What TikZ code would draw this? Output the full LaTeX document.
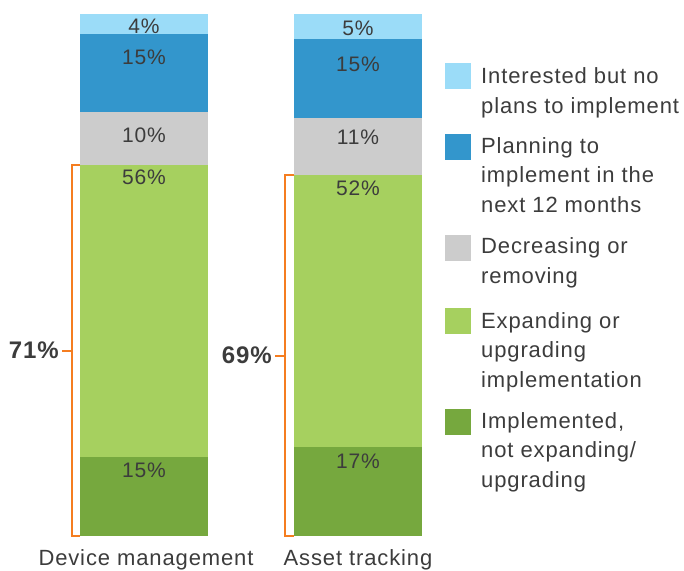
\documentclass[tikz,border=0pt]{standalone}
\usepackage{fontspec}
\setmainfont{Liberation Sans}[LetterSpace=4]
\usepackage{tikz}
\usetikzlibrary{calc}
\definecolor{cInterest}{RGB}{155,220,248}
\definecolor{cPlan}{RGB}{51,150,204}
\definecolor{cDecr}{RGB}{204,204,204}
\definecolor{cExpand}{RGB}{166,208,95}
\definecolor{cImpl}{RGB}{118,168,62}
\definecolor{cBracket}{RGB}{245,125,32}
\definecolor{cText}{RGB}{60,60,60}
\tikzset{barFig/.style={x=1pt,y=-1pt,text=cText},
         seg/.style={rectangle,inner sep=0pt,minimum width=128pt,draw=none},
         pct/.style={anchor=base,inner sep=0pt,font=\fontsize{21}{25}\selectfont},
         tot/.style={anchor=east,inner sep=3pt,font=\fontsize{24}{28}\selectfont\bfseries},
         bracket/.style={draw=cBracket,line width=2pt},
         keybox/.style={rectangle,inner sep=0pt,minimum size=26pt,anchor=north west},
         keytext/.style={anchor=base west,inner sep=0pt,align=left,font=\fontsize{22}{29.5}\selectfont},
         catlabel/.style={anchor=base,inner sep=0pt,font=\fontsize{22}{26}\selectfont}}
\begin{document}
\begin{tikzpicture}[barFig]
    \useasboundingbox (0,0) rectangle (684,570);
    %DEVICE MANAGEMENT
    \node [seg, fill=cInterest, minimum height=20pt] (lb1) at (144,24)    {};
    \node [seg, fill=cPlan,     minimum height=78pt] (bl1) at (144,73)    {};
    \node [seg, fill=cDecr,     minimum height=53pt] (gr1) at (144,138.5) {};
    \node [seg, fill=cExpand,   minimum height=292pt] (lg1) at (144,311)  {};
    \node [seg, fill=cImpl,     minimum height=79pt] (dg1) at (144,496.5) {};
    \node [pct] (p11) at (144,33)  {4\%};
    \node [pct] (p12) at (144,64)  {15\%};
    \node [pct] (p13) at (144,142) {10\%};
    \node [pct] (p14) at (144,184) {56\%};
    \node [pct] (p15) at (144,477) {15\%};
    %ASSET TRACKING
    \node [seg, fill=cInterest, minimum height=25pt] (lb2) at (358,26.5)  {};
    \node [seg, fill=cPlan,     minimum height=79pt] (bl2) at (358,78.5)  {};
    \node [seg, fill=cDecr,     minimum height=57pt] (gr2) at (358,146.5) {};
    \node [seg, fill=cExpand,   minimum height=272pt] (lg2) at (358,311)  {};
    \node [seg, fill=cImpl,     minimum height=89pt] (dg2) at (358,491.5) {};
    \node [pct] (p21) at (358,35)  {5\%};
    \node [pct] (p22) at (358,71)  {15\%};
    \node [pct] (p23) at (358,144) {11\%};
    \node [pct] (p24) at (358,195) {52\%};
    \node [pct] (p25) at (358,468) {17\%};
    %CATEGORIES
    \node [catlabel] (c1) at (146,565) {Device management};
    \node [catlabel] (c2) at (358,565) {Asset tracking};
    %BRACKETS
    \coordinate (k1) at (72,350.5);
    \coordinate (k2) at (285,355.5);
    \node [tot] (t1) at (62,350.5) {71\%};
    \node [tot] (t2) at (275,355.5) {69\%};
    \draw [bracket] (lg1.north west) -| (k1) |- (dg1.south west);
    \draw [bracket] (lg2.north west) -| (k2) |- (dg2.south west);
    \draw [bracket] (k1) -- (t1.east);
    \draw [bracket] (k2) -- (t2.east);
    %LEGEND
    \node [keybox, fill=cInterest] (kb1) at (445,63)  {};
    \node [keybox, fill=cPlan]     (kb2) at (445,134) {};
    \node [keybox, fill=cDecr]     (kb3) at (445,235) {};
    \node [keybox, fill=cExpand]   (kb4) at (445,308) {};
    \node [keybox, fill=cImpl]     (kb5) at (445,409) {};
    \node [keytext] (kt1) at (481,113) {Interested but no\\plans to implement};
    \node [keytext] (kt2) at (481,212) {Planning to\\implement in the\\next 12 months};
    \node [keytext] (kt3) at (481,283) {Decreasing or\\removing};
    \node [keytext] (kt4) at (481,387) {Expanding or\\upgrading\\implementation};
    \node [keytext] (kt5) at (481,487) {Implemented,\\not expanding/\\upgrading};
\end{tikzpicture}
\end{document}
